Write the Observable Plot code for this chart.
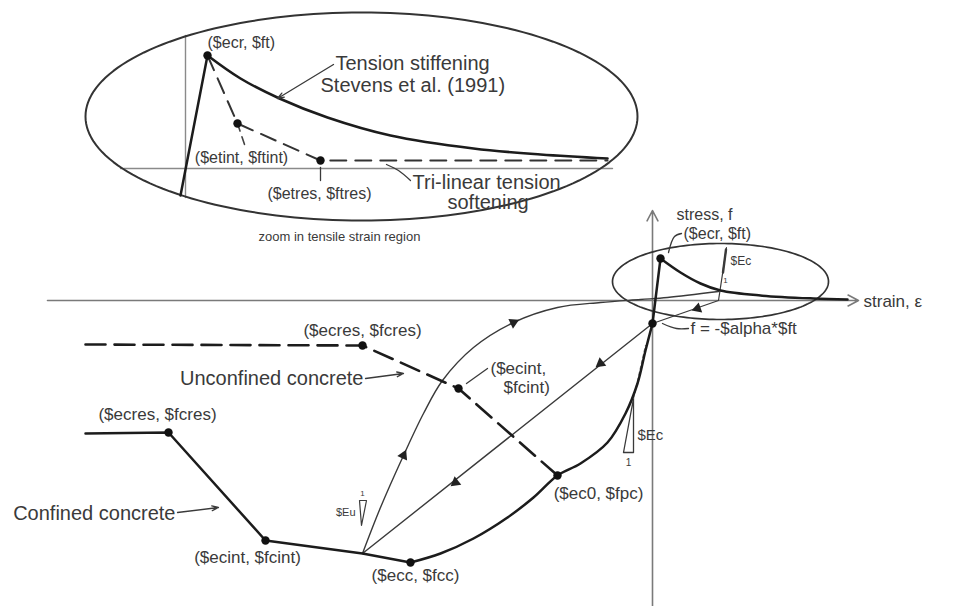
<!DOCTYPE html>
<html>
<head>
<meta charset="utf-8">
<script src="https://cdn.jsdelivr.net/npm/d3@7"></script>
<script src="https://cdn.jsdelivr.net/npm/@observablehq/plot@0.6"></script>
<style>
  html, body { margin: 0; padding: 0; background: #fff; }
  #chart svg { display: block; }
</style>
</head>
<body>
<div id="chart"></div>
<script>
// ---------- data (schematic strain / stress units) ----------
const mainAxes = [
  {x1: -60.5, y1: 0, x2: 20.6, y2: 0},
  {x1: 0, y1: -30.6, x2: 0, y2: 9.0}
];
const confined = [[-56.7,-13.3],[-48.4,-13.2],[-38.7,-24.0],[-29.0,-25.3],[-24.2,-26.2]];
const compression = [[-24.2,-26.2],[-21.2,-25.3],[-17.9,-23.8],[-14.5,-21.7],[-11.9,-19.7],[-9.5,-17.5],
  [-7.2,-16.3],[-4.5,-14.2],[-2.7,-11.3],[-1.5,-8.3],[-0.7,-5.0],[0,-2.3]];
const elastic = [[0,-2.3],[0.8,4.2]];
const tensionMain = [[0.8,4.2],[2.8,2.8],[4.8,1.7],[6.8,1.0],[10.8,0.5],[16.1,0.2],[19.5,0.1]];
const unconfined = [[-56.7,-4.4],[-29.0,-4.5],[-19.4,-8.8],[-9.5,-17.5]];
const reloading = [[-29.0,-25.3],[-27.2,-20.7],[-24.9,-15.5],[-22.9,-11.3],[-21.0,-8.0],[-17.9,-4.7],
  [-13.9,-2.2],[-9.5,-0.7],[-5.2,-0.2],[-1.2,0.1],[1.5,0.3],[6.6,0.9]];
const unloading = [[0,-2.3],[-29.0,-25.3]];
const tensionUnload = [[7.4,5.3],[6.6,0],[0,-2.3]];
const tensionSlopeMark = [[7.35,5.1],[7.05,2.8]];
const ecTriangle = [[-2.9,-15.2],[-1.9,-15.2],[-1.9,-9.8],[-2.9,-15.2]];
const ecTangent = [[-1.9,-9.8],[-0.7,-4.5]];
const euTriangle = [[-29.3,-20.0],[-28.6,-20.0],[-29.1,-22.5],[-29.3,-20.0]];
const mainDots = [[0.8,4.2],[0,-2.3],[-29.0,-4.5],[-19.4,-8.8],[-9.5,-17.5],[-48.4,-13.2],[-38.7,-24.0],[-24.2,-26.2]];
const pathArrows = [
  {x: -24.9, y: -15.5, a: 25},
  {x: -13.9, y: -2.2, a: 65},
  {x: -5.2, y: -6.3, a: 232},
  {x: -19.7, y: -18.2, a: 232},
  {x: 4.5, y: -0.8, a: 251}
];

// inset (zoom in tensile strain region)
const insetAxes = [
  [[-46.7,26.5],[-46.7,10.3]],
  [[-53.2,13.2],[-4.0,13.2]]
];
const insetRise = [[-47.2,10.5],[-44.5,24.5]];
const insetStiffening = [[-44.5,24.5],[-41.2,22.2],[-37.3,20.2],[-32.5,18.3],[-26.2,16.5],[-17.9,15.2],[-11.2,14.6],[-4.5,14.2]];
const insetTrilinear = [[-44.5,24.5],[-41.5,17.7],[-33.2,14.0],[-4.5,14.0]];
const insetDots = [[-44.5,24.5],[-41.5,17.7],[-33.2,14.0]];

const ellipses = [
  {cx: -29.1, cy: 18.4, rx: 27.6, ry: 10.4, w: 2.0},
  {cx: 6.8, cy: 1.9, rx: 10.8, ry: 3.8, w: 1.7}
];

const arrowLeaders = [
  {x1: -28.7, y1: -7.8, x2: -24.9, y2: -7.3},
  {x1: -47.5, y1: -21.2, x2: -43.4, y2: -20.7},
  {x1: -31.9, y1: 23.6, x2: -37.5, y2: 20.2}
];
const plainLeaders = [
  [[-16.5,-6.8],[-18.6,-8.3]],
  [[1.0,-2.3],[2.4,-2.8],[3.6,-2.8]],
  [[1.6,4.8],[2.2,6.4],[2.9,6.7]],
  [[-24.2,12.0],[-25.4,13.0],[-26.6,13.6]],
  [[-33.2,13.3],[-33.2,12.0]]
];
const dashedLeader = [[-41.5,17.7],[-40.7,15.3]];

const labels = [
  {t: "($ecres, $fcres)", x: -29.0, y: -3.0, a: "middle", s: 17},
  {t: "Unconfined concrete", x: -28.9, y: -7.8, a: "end", s: 20},
  {t: "($ecres, $fcres)", x: -49.5, y: -11.4, a: "middle", s: 17},
  {t: "Confined concrete", x: -47.7, y: -21.3, a: "end", s: 20},
  {t: "($ecint, $fcint)", x: -40.5, y: -25.7, a: "middle", s: 17},
  {t: "($ecc, $fcc)", x: -23.7, y: -27.5, a: "middle", s: 17},
  {t: "($ec0, $fpc)", x: -5.4, y: -19.3, a: "middle", s: 17},
  {t: "($ecint,", x: -16.2, y: -6.8, a: "start", s: 17},
  {t: "$fcint)", x: -14.9, y: -8.7, a: "start", s: 17},
  {t: "f = -$alpha*$ft", x: 3.8, y: -2.8, a: "start", s: 17},
  {t: "($ecr, $ft)", x: 3.1, y: 6.7, a: "start", s: 16},
  {t: "stress, f", x: 2.4, y: 8.6, a: "start", s: 16},
  {t: "strain, ε", x: 21.1, y: -0.1, a: "start", s: 17},
  {t: "$Ec", x: -1.5, y: -13.5, a: "start", s: 15},
  {t: "1", x: -2.4, y: -16.2, a: "middle", s: 10},
  {t: "$Ec", x: 7.8, y: 3.9, a: "start", s: 12},
  {t: "1", x: 7.3, y: 2.0, a: "middle", s: 8},
  {t: "$Eu", x: -29.7, y: -21.2, a: "end", s: 11},
  {t: "1", x: -29.0, y: -19.3, a: "middle", s: 8},
  {t: "($ecr, $ft)", x: -44.5, y: 25.8, a: "start", s: 16},
  {t: "Tension stiffening", x: -31.7, y: 23.7, a: "start", s: 20},
  {t: "Stevens et al. (1991)", x: -33.2, y: 21.5, a: "start", s: 20},
  {t: "($etint, $ftint)", x: -41.1, y: 14.3, a: "middle", s: 16},
  {t: "($etres, $ftres)", x: -33.3, y: 10.7, a: "middle", s: 16},
  {t: "Tri-linear tension", x: -24.0, y: 11.8, a: "start", s: 20},
  {t: "softening", x: -20.5, y: 9.8, a: "start", s: 20},
  {t: "zoom in tensile strain region", x: -39.4, y: 6.4, a: "start", s: 13}
];

// ---------- build ----------
const P = d => d[0], Q = d => d[1];
const ellipsePts = ellipses.map(e => d3.range(0, 361, 2).map(t => {
  const r = t * Math.PI / 180;
  return [e.cx + e.rx * Math.cos(r), e.cy + e.ry * Math.sin(r)];
}));

const thick = "#1c1c1c", thin = "#3a3a3a", axisCol = "#7a7a7a", textCol = "#3a3a3a";
const marks = [];

marks.push(Plot.arrow(mainAxes, {x1: "x1", y1: "y1", x2: "x2", y2: "y2", stroke: axisCol, strokeWidth: 1.6, headLength: 11, headAngle: 55}));
insetAxes.forEach(a => marks.push(Plot.line(a, {x: P, y: Q, stroke: "#8a8a8a", strokeWidth: 1.4})));

ellipsePts.forEach((pts, i) => marks.push(Plot.line(pts, {x: P, y: Q, stroke: "#333", strokeWidth: ellipses[i].w})));

marks.push(Plot.line(reloading, {x: P, y: Q, stroke: thin, strokeWidth: 1.4, curve: "catmull-rom"}));
marks.push(Plot.line(unloading, {x: P, y: Q, stroke: thin, strokeWidth: 1.4}));
marks.push(Plot.line(tensionUnload, {x: P, y: Q, stroke: thin, strokeWidth: 1.2}));
marks.push(Plot.line(tensionSlopeMark, {x: P, y: Q, stroke: thin, strokeWidth: 2.4}));
marks.push(Plot.line(ecTriangle, {x: P, y: Q, stroke: thin, strokeWidth: 1.3}));
marks.push(Plot.line(ecTangent, {x: P, y: Q, stroke: "#777", strokeWidth: 1.2, strokeDasharray: "3,3"}));
marks.push(Plot.line(euTriangle, {x: P, y: Q, stroke: thin, strokeWidth: 1.2}));

marks.push(Plot.line(unconfined, {x: P, y: Q, stroke: thick, strokeWidth: 2.6, strokeDasharray: "20,9"}));
marks.push(Plot.line(confined, {x: P, y: Q, stroke: thick, strokeWidth: 2.5}));
marks.push(Plot.line(compression, {x: P, y: Q, stroke: thick, strokeWidth: 2.5, curve: "catmull-rom"}));
marks.push(Plot.line(elastic, {x: P, y: Q, stroke: thick, strokeWidth: 2.5}));
marks.push(Plot.line(tensionMain, {x: P, y: Q, stroke: thick, strokeWidth: 2.5, curve: "catmull-rom"}));

marks.push(Plot.line(insetRise, {x: P, y: Q, stroke: thick, strokeWidth: 2.5}));
marks.push(Plot.line(insetStiffening, {x: P, y: Q, stroke: thick, strokeWidth: 2.6, curve: "catmull-rom"}));
marks.push(Plot.line(insetTrilinear, {x: P, y: Q, stroke: "#333", strokeWidth: 2, strokeDasharray: "16,9"}));
marks.push(Plot.line(dashedLeader, {x: P, y: Q, stroke: "#444", strokeWidth: 1.6, strokeDasharray: "8,6"}));

marks.push(Plot.arrow(arrowLeaders, {x1: "x1", y1: "y1", x2: "x2", y2: "y2", stroke: thin, strokeWidth: 1.3, headLength: 8, headAngle: 40}));
plainLeaders.forEach(l => marks.push(Plot.line(l, {x: P, y: Q, stroke: thin, strokeWidth: 1.3, curve: "catmull-rom"})));

marks.push(Plot.dot(pathArrows, {x: "x", y: "y", rotate: "a", symbol: "triangle", r: 4, fill: "#222", stroke: "none"}));

marks.push(Plot.dot(mainDots, {x: P, y: Q, r: 4.2, fill: "#111"}));
marks.push(Plot.dot(insetDots, {x: P, y: Q, r: 4.2, fill: "#111"}));

["start", "middle", "end"].forEach(anchor => {
  marks.push(Plot.text(labels.filter(d => d.a === anchor), {
    x: "x", y: "y", text: "t", textAnchor: anchor, fontSize: "s", fill: textCol, lineAnchor: "middle"
  }));
});

const chart = Plot.plot({
  width: 958,
  height: 606,
  margin: 0,
  style: {fontFamily: "'Liberation Sans', Arial, Helvetica, sans-serif", background: "#fff"},
  x: {domain: [-65.2, 30.6], axis: null},
  y: {domain: [-30.6, 30.0], axis: null},
  marks
});
document.getElementById("chart").append(chart);
</script>
</body>
</html>
